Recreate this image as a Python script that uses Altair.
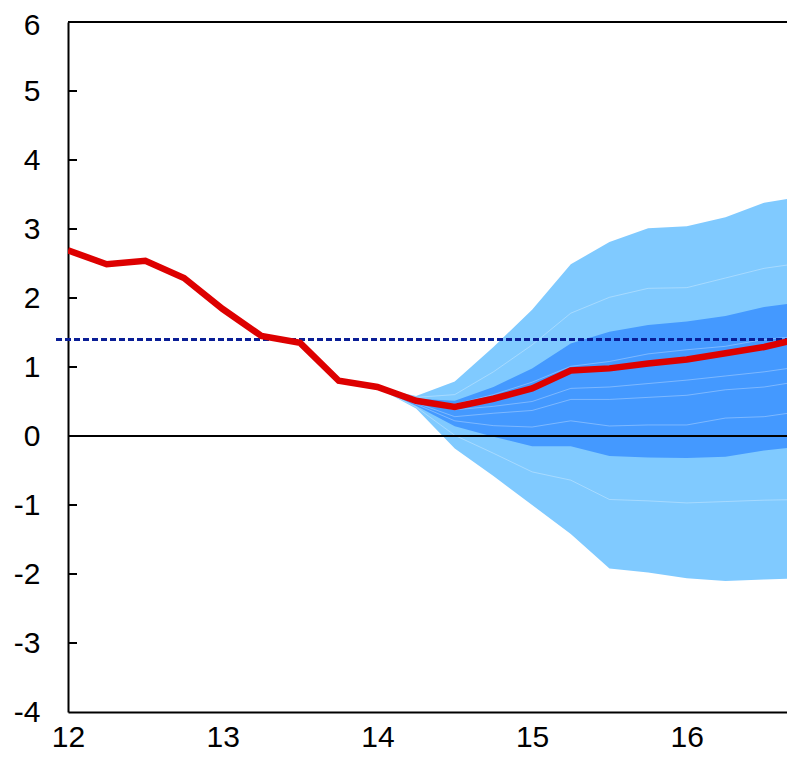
import altair as alt
import pandas as pd

# ---- data ----
quarters = [12.0, 12.25, 12.5, 12.75, 13.0, 13.25, 13.5, 13.75, 14.0, 14.25,
            14.5, 14.75, 15.0, 15.25, 15.5, 15.75, 16.0, 16.25, 16.5, 16.75]
projection = [2.69, 2.49, 2.54, 2.29, 1.84, 1.45, 1.35, 0.80, 0.71, 0.51,
              0.42, 0.54, 0.69, 0.95, 0.98, 1.05, 1.11, 1.20, 1.29, 1.42]

fan_q = [14.0, 14.25, 14.5, 14.75, 15.0, 15.25, 15.5, 15.75, 16.0, 16.25, 16.5, 16.75]
u1 = [0.70, 0.58, 0.79, 1.29, 1.83, 2.49, 2.81, 3.01, 3.04, 3.17, 3.38, 3.47]
u2 = [0.70, 0.56, 0.60, 0.93, 1.32, 1.78, 2.01, 2.14, 2.15, 2.29, 2.43, 2.51]
u3 = [0.70, 0.54, 0.51, 0.71, 0.98, 1.34, 1.51, 1.61, 1.66, 1.74, 1.87, 1.94]
u4 = [0.70, 0.52, 0.46, 0.60, 0.78, 1.01, 1.08, 1.19, 1.25, 1.30, 1.40, 1.45]
l4 = [0.70, 0.50, 0.38, 0.43, 0.50, 0.69, 0.71, 0.76, 0.81, 0.87, 0.93, 1.01]
l5 = [0.70, 0.48, 0.28, 0.33, 0.37, 0.53, 0.53, 0.56, 0.59, 0.67, 0.71, 0.80]
l6 = [0.70, 0.46, 0.22, 0.15, 0.13, 0.22, 0.145, 0.16, 0.16, 0.26, 0.28, 0.36]
l3 = [0.70, 0.44, 0.14, -0.01, -0.15, -0.15, -0.29, -0.31, -0.32, -0.30, -0.21, -0.15]
l2 = [0.70, 0.42, 0.01, -0.25, -0.52, -0.64, -0.92, -0.94, -0.97, -0.95, -0.93, -0.92]
l1 = [0.70, 0.40, -0.18, -0.58, -1.00, -1.42, -1.92, -1.98, -2.06, -2.10, -2.08, -2.06]

target = 1.4
y_ticks = [-3, -2, -1, 0, 1, 2, 3, 4, 5]
x_labels = [12, 13, 14, 15, 16]

proj_df = pd.DataFrame({"q": quarters, "v": projection})
fan_df = pd.DataFrame({"q": fan_q, "u1": u1, "u2": u2, "u3": u3, "u4": u4,
                       "l4": l4, "l5": l5, "l6": l6, "l3": l3, "l2": l2, "l1": l1})
tick_df = pd.DataFrame({"t": y_ticks})

FONT = "Liberation Sans"
FS = 30
W, H = 719, 690
xs = alt.Scale(domain=[12, 12 + W / 154.7], nice=False, zero=False)
ys = alt.Scale(domain=[-4, 6], nice=False, zero=False)

x_axis = alt.Axis(values=x_labels, format="d", ticks=False, tickSize=0, grid=False,
                  domainColor="black", domainWidth=2, labelFontSize=FS, labelFont=FONT,
                  labelColor="black", labelBaseline="alphabetic", labelPadding=34,
                  title=None, labelFlush=False)
y_axis = alt.Axis(values=list(range(-4, 7)), ticks=False, tickSize=0, grid=False,
                  domainColor="black", domainWidth=2, labelFontSize=FS, labelFont=FONT,
                  labelColor="black", labelPadding=28, title=None, labelFlush=False,
                  labelOffset={"condition": {"test": "datum.value == 6", "value": 3},
                               "value": 0},
                  labelExpr="datum.value < 0 ? '-' + abs(datum.value) : '' + datum.value")

base_fan = alt.Chart(fan_df)

outer = base_fan.mark_area(color="#80CAFF", clip=True).encode(
    x=alt.X("q:Q", scale=xs, axis=x_axis),
    y=alt.Y("u1:Q", scale=ys, axis=y_axis),
    y2="l1:Q",
)
inner = base_fan.mark_area(color="#4499FF", clip=True).encode(
    x=alt.X("q:Q", scale=xs, axis=x_axis), y=alt.Y("u3:Q", scale=ys, axis=y_axis), y2="l3:Q"
)
band_lines = base_fan.transform_fold(
    ["u2", "u4", "l4", "l5", "l6", "l2"], as_=["band", "val"]
).mark_line(color="white", strokeWidth=1, opacity=0.3, clip=True).encode(
    x=alt.X("q:Q", scale=xs, axis=x_axis), y=alt.Y("val:Q", scale=ys, axis=y_axis),
    detail="band:N"
)

ticks = alt.Chart(tick_df).mark_rule(color="black", strokeWidth=2).encode(
    x=alt.value(0), x2=alt.value(9), y=alt.Y("t:Q", scale=ys, axis=y_axis)
)
top_border = alt.Chart(tick_df).mark_rule(color="black", strokeWidth=2).encode(
    x=alt.value(0), x2=alt.value(W), y=alt.datum(6, scale=ys)
)
zero_line = alt.Chart(tick_df).mark_rule(color="black", strokeWidth=2).encode(
    x=alt.datum(12.045, scale=xs), x2=alt.value(W), y=alt.datum(0, scale=ys)
)
target_line = alt.Chart(tick_df).mark_rule(color="#0A1E96", strokeWidth=2,
                                           strokeDash=[6, 3]).encode(
    x=alt.value(-12), x2=alt.value(W), y=alt.datum(target, scale=ys)
)
red = alt.Chart(proj_df).mark_line(color="#DD0000", strokeWidth=6.5, clip=True).encode(
    x=alt.X("q:Q", scale=xs, axis=x_axis), y=alt.Y("v:Q", scale=ys, axis=y_axis)
)

chart = alt.layer(outer, inner, band_lines, zero_line, target_line, red, ticks,
                  top_border).properties(
    width=W, height=H,
    autosize=alt.AutoSizeParams(type="none"),
    padding={"left": 60, "top": 14, "right": 0, "bottom": 41},
    background="white",
).configure_view(stroke=None).configure_axis(
    labelFontSize=FS, labelFont=FONT, labelColor="black"
)

chart.save("out.html", embed_options={"renderer": "svg", "actions": False})
